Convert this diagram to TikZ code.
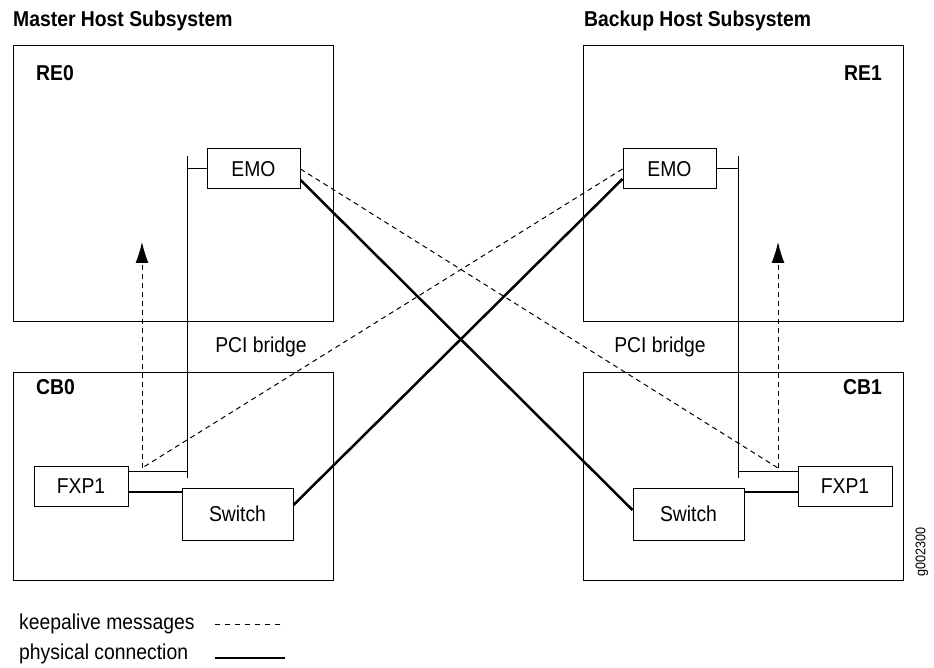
\documentclass[tikz,border=0pt]{standalone}
\usepackage{fontspec}
\setmainfont{Liberation Sans}[FakeStretch=0.9]
\usetikzlibrary{arrows.meta,calc}
\begin{document}
\begin{tikzpicture}[x=1pt,y=-1pt,
  box/.style={draw,line width=1pt,inner sep=0pt},
  comp/.style={box,font=\fontsize{21.5}{24}\selectfont},
  lbl/.style={inner sep=0pt,font=\fontsize{21.5}{24}\selectfont},
  blbl/.style={inner sep=0pt,font=\fontsize{21.5}{24}\selectfont\bfseries},
  thinln/.style={line width=1pt},
  thickln/.style={line width=2.5pt},
  keep/.style={line width=1pt,dash pattern=on 5pt off 4pt},
  uparr/.style={keep,-{Latex[length=21pt,width=13pt]}}
]
\useasboundingbox (0,0) rectangle (934,668);
% big boxes
\node[box,minimum width=320pt,minimum height=275pt] (re0) at (173,183.5) {};
\node[box,minimum width=320pt,minimum height=275pt] (re1) at (743,183.5) {};
\node[box,minimum width=320pt,minimum height=208pt] (cb0) at (173,476) {};
\node[box,minimum width=320pt,minimum height=208pt] (cb1) at (743,476) {};
% titles
\node[blbl,anchor=base west] (t1) at (13,26.7) {Master Host Subsystem};
\node[blbl,anchor=base west] (t2) at (584,26.7) {Backup Host Subsystem};
\node[blbl,anchor=base west] (re0l) at (36,81) {RE0};
\node[blbl,anchor=base east] (re1l) at (882,81) {RE1};
\node[blbl,anchor=base west] (cb0l) at (36,394) {CB0};
\node[blbl,anchor=base east] (cb1l) at (882,394) {CB1};
% components
\node[comp,minimum width=93pt,minimum height=40pt] (emoL) at (253.5,169) {EMO};
\node[comp,minimum width=93pt,minimum height=40pt] (emoR) at (669.5,169) {EMO};
\node[comp,minimum width=94pt,minimum height=40pt] (fxpL) at (81,486) {FXP1};
\node[comp,minimum width=94pt,minimum height=40pt] (fxpR) at (845,486) {FXP1};
\node[comp,minimum width=111pt,minimum height=52pt] (swL) at (237.5,514) {Switch};
\node[comp,minimum width=111pt,minimum height=52pt] (swR) at (688.5,514) {Switch};
% PCI bridges
\coordinate (bLt) at (187,156); \coordinate (bLb) at (187,478);
\coordinate (bRt) at (738,156); \coordinate (bRb) at (738,478);
\draw[thinln] (bLt) -- (bLb);
\draw[thinln] (bRt) -- (bRb);
\draw[thinln] (emoL.west) -- (emoL.west -| bLt);
\draw[thinln] (emoR.east) -- (emoR.east -| bRt);
\coordinate (hL) at ($(fxpL.north east)+(0,6)$);
\coordinate (hR) at ($(fxpR.north west)+(0,6)$);
\draw[thinln] (hL) -- (hL -| bLt);
\draw[thinln] (hR) -- (hR -| bRt);
\node[lbl,anchor=base] (pciL) at (261,352) {PCI bridge};
\node[lbl,anchor=base] (pciR) at (660,352) {PCI bridge};
% physical connections
\draw[thickln] ($(fxpL.east)+(0,6)$) -- ($(swL.west)+(0,-22)$);
\draw[thickln] ($(fxpR.west)+(0,6)$) -- ($(swR.east)+(0,-22)$);
\draw[thickln] ($(emoL.east)+(0,11)$) -- ($(swR.west)+(0,-4)$);
\draw[thickln] ($(swL.east)+(0,-9)$) -- ($(emoR.west)+(0,10)$);
% keepalive messages
\coordinate (dL) at (142,468); \coordinate (dR) at (778,468);
\coordinate (aL) at (142,242); \coordinate (aR) at (778,242);
\draw[keep] (emoL.east) -- (dR);
\draw[keep] (emoR.west) -- (dL);
\draw[uparr] (dL) -- (aL);
\draw[uparr] (dR) -- (aR);
% legend
\node[lbl,anchor=base west] (lk) at (19,629) {keepalive messages};
\node[lbl,anchor=base west] (lp) at (19,659) {physical connection};
\coordinate (k1) at (215,624); \coordinate (k2) at (285,624);
\coordinate (p1) at (215,658); \coordinate (p2) at (285,658);
\draw[line width=1pt,dash pattern=on 5pt off 5pt] (k1) -- (k2);
\draw[thickln] (p1) -- (p2);
% figure id
\node[inner sep=0pt,rotate=90,font=\fontsize{14}{16}\selectfont] (gid) at (922,552) {g002300};
\end{tikzpicture}
\end{document}
